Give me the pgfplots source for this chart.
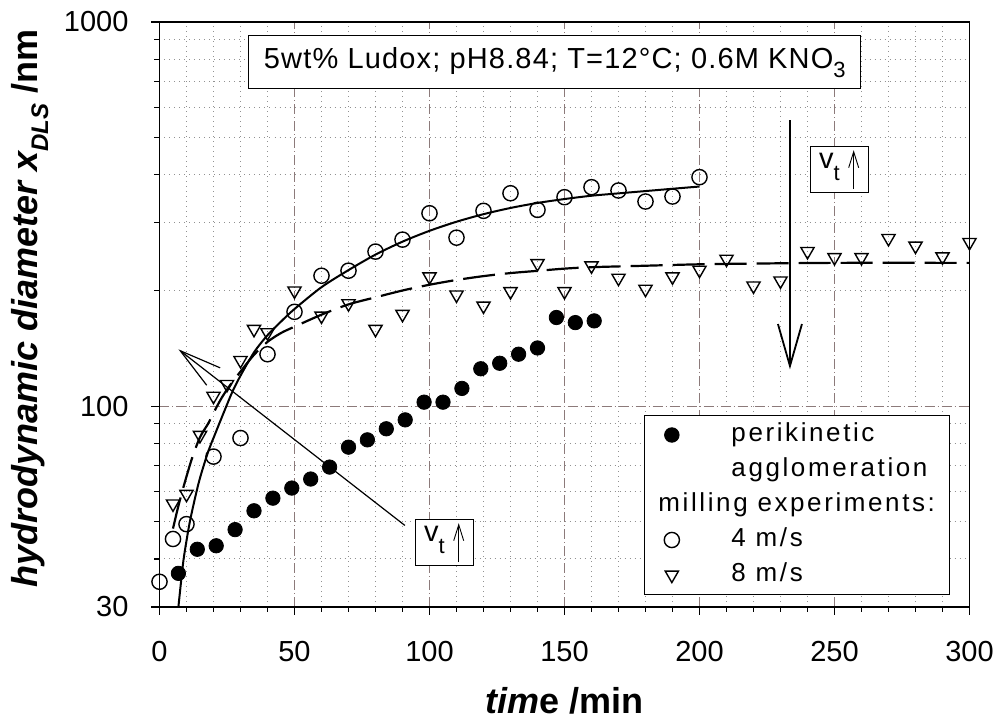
\documentclass[border=0pt]{standalone}
\usepackage{fontspec}
\setmainfont{Liberation Sans}
\newfontfamily\legfont{Liberation Sans}[LetterSpace=10]
\newfontfamily\titfont{Liberation Sans}[LetterSpace=4]
\usepackage{pgfplots}
\pgfplotsset{compat=1.18}
\usetikzlibrary{arrows.meta,calc}
\definecolor{gridmaj}{RGB}{140,122,122}
\definecolor{gridmin}{RGB}{145,145,145}

\begin{document}
\begin{tikzpicture}
\begin{axis}[name=ax, scale only axis, width=405pt, height=292.5pt,
  xmin=0, xmax=300, ymode=log, ymin=30, ymax=1000,
  xtick={0,50,...,300}, minor x tick num=4,
  ytick={30,100,1000}, yticklabels={30,100,1000},
  minor ytick={40,50,60,70,80,90,200,300,400,500,600,700,800,900},
  tick pos=left, tick align=outside,
  major tick length=4pt, minor tick length=2.5pt,
  every tick/.style={black, line width=0.6pt},
  axis line style={black, line width=0.75pt},
  grid=both,
  major grid style={gridmaj, line width=0.5pt, dash pattern=on 5pt off 1.5pt on 0.5pt off 1.5pt},
  minor grid style={gridmin, line width=0.5pt, dash pattern=on 0.5pt off 2pt},
  /pgf/number format/assume math mode=true,
  tick label style={font=\fontsize{14.5}{17}\selectfont},
  xticklabel style={yshift=-9.5pt},
  yticklabel style={xshift=-8pt},
  xlabel={{\bfseries\itshape tim}{\bfseries e /min}},
  ylabel={\bfseries\itshape hydrodynamic diameter x\raisebox{-0.3em}{\fontsize{12}{12}\selectfont DLS}\upshape\ /nm},
  xlabel style={at={(axis description cs:0.5,-0.16)}, anchor=center, font=\fontsize{18}{20}\selectfont},
  ylabel style={at={(axis description cs:-0.16,0.51)}, anchor=center, rotate=0, font=\fontsize{18}{20}\selectfont},
  legend style={at={(rel axis cs:1,0)}, anchor=south east, xshift=-10pt, yshift=6pt,
    draw=black, line width=0.5pt, fill=white, font=\legfont\fontsize{13}{15}\selectfont,
    nodes={text height=9.5pt, text depth=2.8pt, inner ysep=2.6pt}, inner ysep=1pt, inner xsep=5pt,
    /tikz/every odd column/.append style={column sep=24pt}},
  legend cell align=left,
]
% perikinetic agglomeration
\addplot[only marks, mark=*, mark size=3.6pt, black] coordinates {
(7,36.7) (14,42.4) (21,43.3) (28,47.7) (35,53.4) (42,57.6) (49,61.2) (56,64.6)
(63,69.4) (70,78.2) (77,81.7) (84,87.3) (91,92.1) (98,102.4) (105,102.4) (112,111.2)
(119,125.1) (126,129.3) (133,136.5) (140,141.7) (147,170.1) (154,165.0) (161,166.7)};
\addlegendentry{perikinetic}
\addlegendimage{empty legend}
\addlegendentry{agglomeration}
\addlegendimage{empty legend}
\addlegendentry{\hspace*{-36.5pt}milling experiments:}
% 4 m/s
\addplot[only marks, mark=o, mark size=3.8pt, black, mark options={line width=0.7pt}] coordinates {
(0,34.9) (5,45.1) (10,49.3) (20,73.9) (30,82.6) (40,136.5) (50,176.0) (60,218.5)
(70,225.2) (80,252.5) (90,271.3) (100,317.8) (110,274.5) (120,322.4) (130,358.3)
(140,324.3) (150,349.9) (160,371.5) (170,364.2) (180,340.9) (190,351.3) (200,394.6)};
\addlegendentry{4 m/s}
% 8 m/s
\addplot[only marks, mark=triangle, mark size=3.8pt, black, mark options={rotate=180, line width=0.7pt}] coordinates {
(5,55.7) (10,59.0) (15,84.0) (20,106.2) (25,114.0) (30,131.6) (35,158.6) (40,155.4)
(50,199.7) (60,171.8) (70,185.0) (80,158.6) (90,173.5) (100,217.2) (110,194.9)
(120,182.4) (130,198.9) (140,235.3) (150,199.0) (160,232.0) (170,215.5) (180,201.7)
(190,217.2) (200,226.1) (210,241.5) (220,205.7) (230,212.0) (240,252.9) (250,243.9)
(260,243.9) (270,273.4) (280,261.2) (290,244.9) (300,267.0)};
\addlegendentry{8 m/s}
% fit 4 m/s
\addplot[forget plot, black, line width=1pt, smooth] coordinates {
(7,30) (8,35) (9,40.3) (11,49) (13,57) (15,65) (18,76) (21,86) (24,97) (27,109)
(30,120) (35,138) (40,153) (45,166) (50,179) (60,204) (70,226) (80,248) (90,268)
(100,286) (110,302) (120,316) (130,328) (140,338) (150,346) (160,353) (170,358)
(180,363) (190,368) (200,373)};
% fit 8 m/s
\addplot[forget plot, black, line width=1.1pt, smooth, dash pattern=on 16pt off 5pt] coordinates {
(5,48) (7,55) (9,62) (12,73) (15,83) (18,90) (20,96) (23,105) (26,113) (30,123)
(35,136) (40,147) (45,155) (50,161) (60,173) (70,184) (80,192) (90,200) (100,207)
(110,213) (120,218) (130,222) (140,225) (150,228) (160,230) (180,232) (200,234)
(220,235) (250,236) (300,236)};
% annotations
\draw[line width=0.6pt, -{Straight Barb[length=21pt,width=11pt]}] (axis cs:90.9,48.9) -- (axis cs:7,140.6);
\draw[line width=0.9pt, -{Straight Barb[length=21pt,width=12pt]}] (axis cs:233.5,554.9) -- (axis cs:233.5,124.7);
\node[draw=black, line width=0.5pt, fill=white, font=\titfont\fontsize{14.5}{17}\selectfont,
  inner xsep=7.5pt, minimum height=26.5pt] at (rel axis cs:0.4880,0.9308)
  {5wt\% Ludox; pH8.84; T=12°C; 0.6M KNO\raisebox{-0.3em}{\fontsize{11}{11}\selectfont 3}};
\node[draw=black, line width=0.5pt, fill=white, minimum width=29pt, minimum height=23pt,
  inner sep=0pt] (b1) at (rel axis cs:0.3515,0.1099) {};
\node[draw=black, line width=0.5pt, fill=white, minimum width=29pt, minimum height=23pt,
  inner sep=0pt] (b2) at (rel axis cs:0.8391,0.7475) {};
\end{axis}
\foreach \b in {b1,b2}{
  \node[anchor=west, inner sep=0pt, font=\fontsize{14.5}{16}\selectfont]
    at ($(\b.west)+(4.5pt,1.5pt)$) {v\raisebox{-0.4em}{\fontsize{11}{11}\selectfont t}};
  \draw[line width=0.45pt, -{Straight Barb[length=8pt,width=5pt]}]
    ($(\b.south west)+(22pt,2pt)$) -- ($(\b.north west)+(22pt,-2pt)$);
}
\pgfresetboundingbox
\path (-79.75pt,-57.5pt) rectangle (417.75pt,303.5pt);
\end{tikzpicture}
\end{document}
